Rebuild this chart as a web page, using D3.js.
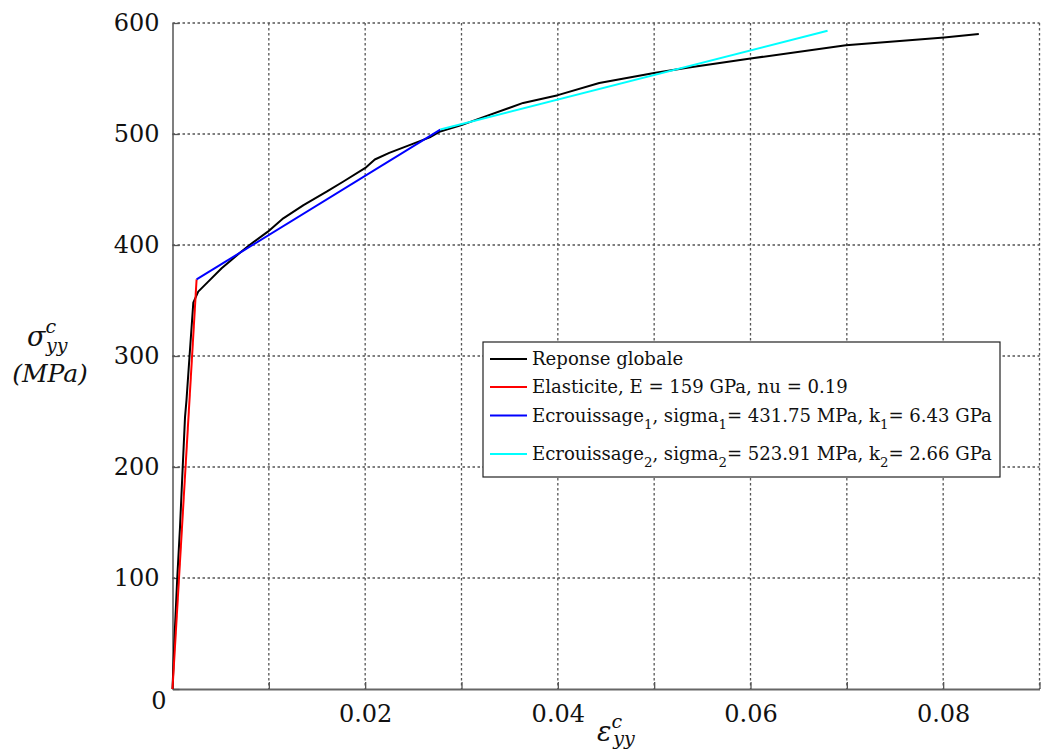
<!DOCTYPE html>
<html>
<head>
<meta charset="utf-8">
<script src="https://cdn.jsdelivr.net/npm/d3@7"></script>
<style>
  html, body { margin: 0; padding: 0; background: #fff; }
  svg { display: block; }
</style>
</head>
<body>
<svg id="chart" width="1041" height="756"></svg>
<script>
// ---------- data ----------
const globalStrain = [0, 0.00026, 0.0005, 0.00078, 0.00106, 0.0013, 0.00145, 0.00181, 0.00216, 0.00267,
  0.00371, 0.0051, 0.0059, 0.0070, 0.0080, 0.0099, 0.0115, 0.0136, 0.0160, 0.0177, 0.0201, 0.0210,
  0.0225, 0.0246, 0.0267, 0.0277, 0.0300, 0.0322, 0.0364, 0.0400, 0.0443, 0.0500, 0.0536, 0.0600,
  0.0699, 0.0801, 0.0837];
const globalStress = [0, 56, 101, 146, 200, 245, 260, 305, 348, 358,
  367, 379, 385, 393, 400, 412, 424, 436, 448, 457, 470, 477,
  483, 490, 497, 502, 508, 515, 528, 535, 546, 555, 560, 568,
  580, 587, 590];
const elasticStrain = [0, 0.0025];
const elasticStress = [0, 369];
const hard1Strain = [0.0025, 0.0278];
const hard1Stress = [369, 504];
const hard2Strain = [0.0278, 0.0680];
const hard2Stress = [504, 593];

const xGridTicks = [0.01, 0.02, 0.03, 0.04, 0.05, 0.06, 0.07, 0.08, 0.09];
const xLabelTicks = [0.02, 0.04, 0.06, 0.08];
const yTicks = [0, 100, 200, 300, 400, 500, 600];

const seriesColors = ["#000000", "#ff0000", "#0000ff", "#00ffff"];
// legend labels as [text, isSubscript] segments
const legendLabels = [
  [["Reponse globale", false]],
  [["Elasticite, E = 159 GPa, nu = 0.19", false]],
  [["Ecrouissage", false], ["1", true], [", sigma", false], ["1", true], ["= 431.75 MPa, k", false], ["1", true], ["= 6.43 GPa", false]],
  [["Ecrouissage", false], ["2", true], [", sigma", false], ["2", true], ["= 523.91 MPa, k", false], ["2", true], ["= 2.66 GPa", false]]
];

// ---------- layout ----------
const svg = d3.select("#chart");
const pLeft = 172.5, pRight = 1039.5, pTop = 23, pBottom = 689;
const x = d3.scaleLinear().domain([0, 0.09]).range([pLeft, pRight]);
const y = d3.scaleLinear().domain([0, 600]).range([pBottom, pTop]);
const serif = "'DejaVu Serif', 'Liberation Serif', serif";

// grid
const grid = svg.append("g").attr("stroke", "#555").attr("stroke-width", 1.3)
  .attr("stroke-dasharray", "2.5,2.5").attr("fill", "none");
grid.selectAll("line.vx").data(xGridTicks).join("line")
  .attr("x1", d => x(d)).attr("x2", d => x(d)).attr("y1", pTop).attr("y2", pBottom);
grid.selectAll("line.hy").data(yTicks.filter(d => d > 0)).join("line")
  .attr("x1", pLeft).attr("x2", pRight).attr("y1", d => y(d)).attr("y2", d => y(d));

// axes
const xAxis = d3.axisBottom(x).tickValues(xGridTicks)
  .tickFormat(d => xLabelTicks.some(t => Math.abs(t - d) < 1e-9) ? d3.format(".2f")(d) : "")
  .tickSizeInner(-7).tickSizeOuter(0).tickPadding(16);
const gx = svg.append("g").attr("transform", `translate(0,${pBottom})`).call(xAxis);
gx.select(".domain").attr("stroke", "#666").attr("stroke-width", 2);
gx.selectAll(".tick line").attr("stroke", "#555").attr("stroke-width", 1.3);
gx.selectAll(".tick text").attr("font-family", serif).attr("font-size", 24).attr("fill", "#111");

const yAxis = d3.axisLeft(y).tickValues(yTicks).tickFormat(d3.format("d"))
  .tickSizeInner(-7).tickSizeOuter(0).tickPadding(13);
const gy = svg.append("g").attr("transform", `translate(${pLeft},0)`).call(yAxis);
gy.select(".domain").attr("stroke", "#555").attr("stroke-width", 1.5);
gy.selectAll(".tick line").attr("stroke", "#555").attr("stroke-width", 1.3);
gy.selectAll(".tick text").attr("font-family", serif).attr("font-size", 24).attr("fill", "#111");
gy.selectAll(".tick").filter(d => d === 0).select("text").attr("dy", "0.8em").attr("x", -6);

// series
const line = d3.line().x(d => x(d[0])).y(d => y(d[1]));
const series = [
  d3.zip(globalStrain, globalStress),
  d3.zip(elasticStrain, elasticStress),
  d3.zip(hard1Strain, hard1Stress),
  d3.zip(hard2Strain, hard2Stress)
];
svg.append("g").selectAll("path").data(series).join("path")
  .attr("d", d => line(d)).attr("fill", "none")
  .attr("stroke", (d, i) => seriesColors[i]).attr("stroke-width", 2)
  .attr("stroke-linejoin", "round");

// legend
const lg = svg.append("g");
lg.append("rect").attr("x", 483).attr("y", 342).attr("width", 517).attr("height", 135)
  .attr("fill", "#fff").attr("stroke", "#222").attr("stroke-width", 1.2);
const rowBase = [365, 393, 421.5, 460];
const legendTexts = [];
legendLabels.forEach((segs, i) => {
  lg.append("line").attr("x1", 490).attr("x2", 527)
    .attr("y1", rowBase[i] - 6).attr("y2", rowBase[i] - 6)
    .attr("stroke", seriesColors[i]).attr("stroke-width", 2);
  const t = lg.append("text").attr("x", 532).attr("y", rowBase[i])
    .attr("font-family", serif).attr("font-size", 19).attr("fill", "#111");
  let sub = false;
  segs.forEach(([s, isSub]) => {
    const ts = t.append("tspan").text(s);
    if (isSub) ts.attr("font-size", 14);
    if (isSub && !sub) { ts.attr("dy", 7); sub = true; }
    else if (!isSub && sub) { ts.attr("dy", -7); sub = false; }
  });
  legendTexts.push(t);
});
// fit the longest legend row to the box width
const w4 = legendTexts[3].node().getComputedTextLength();
const k = 460 / w4;
legendTexts.forEach(t => {
  t.attr("font-size", 19 * k);
  t.selectAll("tspan").filter(function () { return this.getAttribute("font-size"); })
    .attr("font-size", 14 * k);
});

// axis labels
const yl = svg.append("text").attr("x", 27).attr("y", 346)
  .attr("font-family", serif).attr("font-style", "italic").attr("font-size", 27).attr("fill", "#111");
yl.append("tspan").text("σ");
yl.append("tspan").attr("dy", -13).attr("font-size", 19).text("c");
yl.append("tspan").attr("dy", 19).attr("dx", -10).attr("font-size", 19).text("yy");
svg.append("text").attr("x", 50).attr("y", 382).attr("text-anchor", "middle")
  .attr("font-family", serif).attr("font-style", "italic").attr("font-size", 25).attr("fill", "#111")
  .text("(MPa)");

const xl = svg.append("text").attr("x", 597).attr("y", 741)
  .attr("font-family", serif).attr("font-style", "italic").attr("font-size", 27).attr("fill", "#111");
xl.append("tspan").text("ε");
xl.append("tspan").attr("dy", -13).attr("font-size", 19).text("c");
xl.append("tspan").attr("dy", 17).attr("dx", -9).attr("font-size", 19).text("yy");
</script>
</body>
</html>
